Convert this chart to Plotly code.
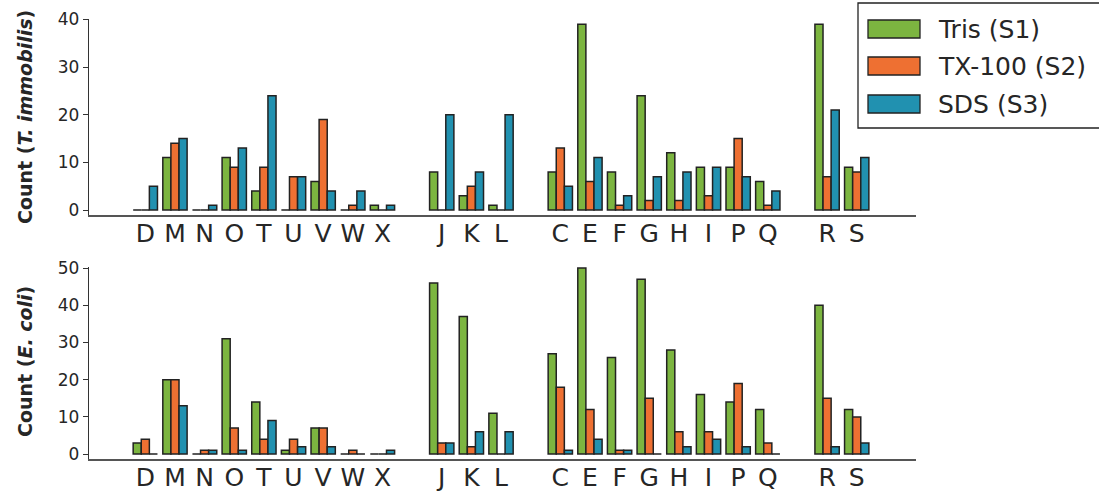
import plotly.graph_objects as go
from plotly.subplots import make_subplots

# Category labels and their slot positions (an empty slot separates each group)
categories = ["D", "M", "N", "O", "T", "U", "V", "W", "X",
              "J", "K", "L",
              "C", "E", "F", "G", "H", "I", "P", "Q",
              "R", "S"]
positions = [0, 1, 2, 3, 4, 5, 6, 7, 8,
             10, 11, 12,
             14, 15, 16, 17, 18, 19, 20, 21,
             23, 24]

series_names = ["Tris (S1)", "TX-100 (S2)", "SDS (S3)"]
series_colors = ["#7cb540", "#ee7032", "#2191b0"]

# T. immobilis counts
timm_tris = [0, 11, 0, 11, 4, 0, 6, 0, 1, 8, 3, 1, 8, 39, 8, 24, 12, 9, 9, 6, 39, 9]
timm_tx100 = [0, 14, 0, 9, 9, 7, 19, 1, 0, 0, 5, 0, 13, 6, 1, 2, 2, 3, 15, 1, 7, 8]
timm_sds = [5, 15, 1, 13, 24, 7, 4, 4, 1, 20, 8, 20, 5, 11, 3, 7, 8, 9, 7, 4, 21, 11]

# E. coli counts
ecoli_tris = [3, 20, 0, 31, 14, 1, 7, 0, 0, 46, 37, 11, 27, 50, 26, 47, 28, 16, 14, 12, 40, 12]
ecoli_tx100 = [4, 20, 1, 7, 4, 4, 7, 1, 0, 3, 2, 0, 18, 12, 1, 15, 6, 6, 19, 3, 15, 10]
ecoli_sds = [0, 13, 1, 1, 9, 2, 2, 0, 1, 3, 6, 6, 1, 4, 1, 0, 2, 4, 2, 0, 2, 3]

W, H = 1099, 494
L_M, R_M = 89, 183

def py(px):
    # pixel row -> paper y
    return (H - px) / H

fig = make_subplots(rows=2, cols=1, shared_xaxes=False)

panels = [(1, [timm_tris, timm_tx100, timm_sds]),
          (2, [ecoli_tris, ecoli_tx100, ecoli_sds])]
for row, vals in panels:
    for name, color, v in zip(series_names, series_colors, vals):
        fig.add_trace(go.Bar(
            x=positions, y=v, name=name,
            marker=dict(color=color, line=dict(color="#222222", width=1.5)),
            showlegend=False,
        ), row=row, col=1)

axis_font = dict(family="DejaVu Sans", size=17, color="#262626")
for row in (1, 2):
    fig.update_xaxes(
        row=row, col=1,
        range=[-1.9, 26.0],
        tickmode="array", tickvals=positions, ticktext=categories,
        tickfont=dict(family="DejaVu Sans", size=25, color="#262626"),
        ticks="", ticklabelstandoff=-5, showgrid=False, zeroline=False,
        showline=True, linecolor="#555555", linewidth=1.5,
        automargin=False,
    )
    fig.update_yaxes(
        row=row, col=1,
        showgrid=False, zeroline=False,
        showline=True, linecolor="#333333", linewidth=1.3,
        ticks="outside", ticklen=5, tickwidth=1.2, tickcolor="#333333",
        tickfont=axis_font, automargin=False,
    )

fig.update_yaxes(row=1, col=1, range=[-1.05, 40.2], tickvals=[0, 10, 20, 30, 40])
fig.update_yaxes(row=2, col=1, range=[-1.4, 50.3], tickvals=[0, 10, 20, 30, 40, 50])

fig.update_layout(
    width=W, height=H,
    margin=dict(l=L_M, r=R_M, t=0, b=0),
    paper_bgcolor="white", plot_bgcolor="white",
    barmode="group", bargap=0.18, bargroupgap=0.0,
    xaxis=dict(domain=[0, 1]),
    xaxis2=dict(domain=[0, 1]),
    yaxis=dict(domain=[py(215), py(18.5)]),
    yaxis2=dict(domain=[py(459.3), py(267)]),
    font=dict(family="DejaVu Sans", color="#262626"),
)

# y-axis titles
plot_w = W - L_M - R_M
title_x = (25 - L_M) / plot_w
fig.add_annotation(text="<b>Count (<i>T. immobilis</i>)</b>", textangle=-90,
                   xref="paper", yref="paper", x=title_x, y=py(117),
                   xanchor="center", yanchor="middle", showarrow=False,
                   font=dict(family="DejaVu Sans", size=19, color="#262626"))
fig.add_annotation(text="<b>Count (<i>E. coli</i>)</b>", textangle=-90,
                   xref="paper", yref="paper", x=title_x, y=py(362),
                   xanchor="center", yanchor="middle", showarrow=False,
                   font=dict(family="DejaVu Sans", size=19, color="#262626"))

# Legend box with rectangular swatches
def px_x(px):
    return (px - L_M) / plot_w

fig.add_shape(type="rect", xref="paper", yref="paper",
              x0=px_x(858), x1=px_x(1110), y0=py(128), y1=py(3),
              line=dict(color="#222222", width=1.3), fillcolor="white")
swatch_rows = [29, 66, 104]
for name, color, yc in zip(series_names, series_colors, swatch_rows):
    fig.add_shape(type="rect", xref="paper", yref="paper",
                  x0=px_x(868), x1=px_x(920), y0=py(yc + 9), y1=py(yc - 9),
                  line=dict(color="#222222", width=1.3), fillcolor=color)
    fig.add_annotation(text=name, xref="paper", yref="paper",
                       x=px_x(936), y=py(yc), xanchor="left", yanchor="middle",
                       showarrow=False,
                       font=dict(family="DejaVu Sans", size=25, color="#262626"))

fig.write_html("out.html")
